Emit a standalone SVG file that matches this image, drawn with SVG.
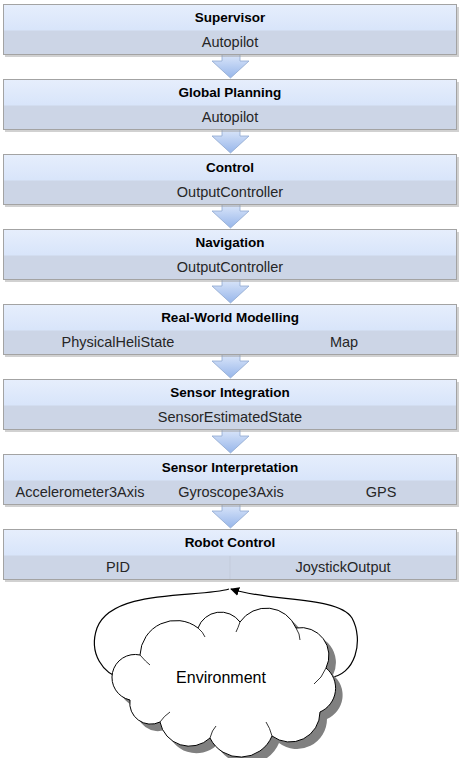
<svg xmlns="http://www.w3.org/2000/svg" width="462" height="758" viewBox="0 0 462 758">
<defs>
<linearGradient id="hdr" x1="0" y1="0" x2="0" y2="1">
<stop offset="0" stop-color="#e6eefc"/>
<stop offset="1" stop-color="#cbdcf8"/>
</linearGradient>
<linearGradient id="arr" x1="0" y1="0" x2="0" y2="1">
<stop offset="0" stop-color="#dce7fa"/>
<stop offset="1" stop-color="#97b6ea"/>
</linearGradient>
<path id="arrow" d="M222,0 H240 V7 H249 L230.5,24 L212,7 H222 Z" fill="url(#arr)" stroke="#8fa8cf" stroke-width="0.8"/>
<marker id="ah" viewBox="0 0 10 10" refX="9" refY="5" markerWidth="9" markerHeight="9" markerUnits="userSpaceOnUse" orient="auto">
<path d="M0,0 L10,5 L0,10 Z" fill="#000"/>
</marker>
<path id="cloud" d="M130,700 A22,22 0 0 1 140,655 A36,36 0 0 1 198,628 A24,24 0 0 1 240,622 A32,32 0 0 1 296,628 A28,28 0 0 1 326,668 A26,26 0 0 1 320,712 A30,30 0 0 1 272,736 A34,34 0 0 1 210,738 A30,30 0 0 1 160,722 A21,21 0 0 1 130,700 Z"/>
</defs>
<style>
.box{fill:url(#hdr);stroke:#a3a3a3;stroke-width:1}
.sub{fill:#ccd5e6}
.shadow{fill:#9a9a9a;opacity:0.45}
.t{font-family:"Liberation Sans",Arial,sans-serif;font-size:13.5px;font-weight:bold;fill:#000;text-anchor:middle}
.s{font-family:"Liberation Sans",Arial,sans-serif;font-size:14.5px;fill:#262626;text-anchor:middle}
.conn{fill:none;stroke:#000;stroke-width:1.2}
.hook{fill:none;stroke:#000;stroke-width:0.8}
</style>
<rect width="462" height="758" fill="#fff"/>

<g id="connectors">
<use href="#arrow" transform="translate(0,54)"/>
<use href="#arrow" transform="translate(0,129)"/>
<use href="#arrow" transform="translate(0,204)"/>
<use href="#arrow" transform="translate(0,279)"/>
<use href="#arrow" transform="translate(0,354)"/>
<use href="#arrow" transform="translate(0,429)"/>
<use href="#arrow" transform="translate(0,504)"/>
<path class="conn" d="M229,589 C200,598 112,588 97,628 C88,654 104,674 121,678" marker-end="url(#ah)"/>
<path class="conn" d="M328,678 C356,676 364,640 352,618 C338,596 270,602 231,589" marker-end="url(#ah)"/>
</g>

<g id="supervisor">
<rect class="shadow" x="5" y="7" width="454" height="50"/>
<rect class="box" x="3.5" y="4.5" width="453" height="50"/>
<rect class="sub" x="4" y="30.5" width="452" height="23.5"/>
<text class="t" x="230" y="22">Supervisor</text>
<text class="s" x="230" y="47">Autopilot</text>
</g>

<g id="global-planning">
<rect class="shadow" x="5" y="82" width="454" height="50"/>
<rect class="box" x="3.5" y="79.5" width="453" height="50"/>
<rect class="sub" x="4" y="105.5" width="452" height="23.5"/>
<text class="t" x="230" y="97">Global Planning</text>
<text class="s" x="230" y="122">Autopilot</text>
</g>

<g id="control">
<rect class="shadow" x="5" y="157" width="454" height="50"/>
<rect class="box" x="3.5" y="154.5" width="453" height="50"/>
<rect class="sub" x="4" y="180.5" width="452" height="23.5"/>
<text class="t" x="230" y="172">Control</text>
<text class="s" x="230" y="197">OutputController</text>
</g>

<g id="navigation">
<rect class="shadow" x="5" y="232" width="454" height="50"/>
<rect class="box" x="3.5" y="229.5" width="453" height="50"/>
<rect class="sub" x="4" y="255.5" width="452" height="23.5"/>
<text class="t" x="230" y="247">Navigation</text>
<text class="s" x="230" y="272">OutputController</text>
</g>

<g id="real-world-modelling">
<rect class="shadow" x="5" y="307" width="454" height="50"/>
<rect class="box" x="3.5" y="304.5" width="453" height="50"/>
<rect class="sub" x="4" y="330.5" width="452" height="23.5"/>
<text class="t" x="230" y="322">Real-World Modelling</text>
<text class="s" x="118" y="347">PhysicalHeliState</text>
<text class="s" x="344" y="347">Map</text>
</g>

<g id="sensor-integration">
<rect class="shadow" x="5" y="382" width="454" height="50"/>
<rect class="box" x="3.5" y="379.5" width="453" height="50"/>
<rect class="sub" x="4" y="405.5" width="452" height="23.5"/>
<text class="t" x="230" y="397">Sensor Integration</text>
<text class="s" x="230" y="422">SensorEstimatedState</text>
</g>

<g id="sensor-interpretation">
<rect class="shadow" x="5" y="457" width="454" height="50"/>
<rect class="box" x="3.5" y="454.5" width="453" height="50"/>
<rect class="sub" x="4" y="480.5" width="452" height="23.5"/>
<text class="t" x="230" y="472">Sensor Interpretation</text>
<text class="s" x="80" y="497">Accelerometer3Axis</text>
<text class="s" x="231" y="497">Gyroscope3Axis</text>
<text class="s" x="381" y="497">GPS</text>
</g>

<g id="robot-control">
<rect class="shadow" x="5" y="532" width="454" height="50"/>
<rect class="box" x="3.5" y="529.5" width="453" height="50"/>
<rect class="sub" x="4" y="555.5" width="452" height="23.5"/>
<line x1="230" y1="556" x2="230" y2="579" stroke="#c3cbdb" stroke-width="1"/>
<text class="t" x="230" y="547">Robot Control</text>
<text class="s" x="118" y="572">PID</text>
<text class="s" x="343" y="572">JoystickOutput</text>
</g>

<g id="environment">
<use href="#cloud" transform="translate(7,7)" fill="#808080"/>
<use href="#cloud" fill="#fff" stroke="#000" stroke-width="1"/>
<path class="hook" d="M140,655 Q146,662 150,665"/>
<path class="hook" d="M198,628 Q203,632 205,637"/>
<path class="hook" d="M240,622 Q238,628 236,632"/>
<path class="hook" d="M296,628 Q300,634 300,640"/>
<path class="hook" d="M326,668 Q322,678 314,684"/>
<path class="hook" d="M272,736 Q270,728 266,722"/>
<path class="hook" d="M210,738 Q212,730 216,726"/>
<path class="hook" d="M160,722 Q164,716 170,712"/>
<text x="221" y="683" font-family="'Liberation Sans',Arial,sans-serif" font-size="16" text-anchor="middle" fill="#000">Environment</text>
</g>
</svg>
